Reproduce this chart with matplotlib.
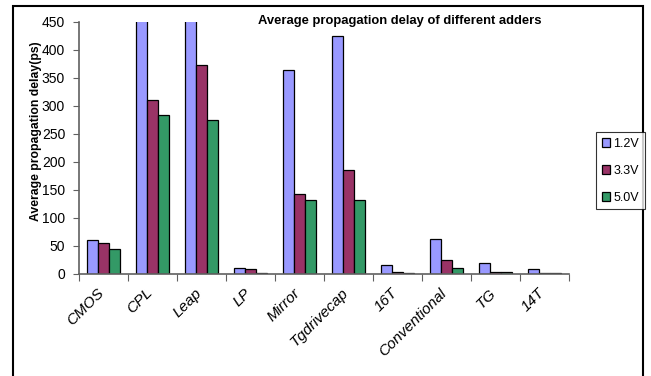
import matplotlib
matplotlib.use("Agg")
import matplotlib.pyplot as plt
import numpy as np
from matplotlib.patches import Rectangle

plt.rcParams['font.family'] = ['Liberation Sans', 'DejaVu Sans']

adders = ["CMOS", "CPL", "Leap", "LP", "Mirror", "Tgdrivecap",
          "16T", "Conventional", "TG", "14T"]
voltages = ["1.2V", "3.3V", "5.0V"]
delay_1v2 = [60, 620, 640, 11, 365, 425, 16, 62, 20, 9]
delay_3v3 = [55, 311, 374, 9, 143, 185, 4, 25, 4, 2]
delay_5v0 = [44, 284, 275, 2, 132, 132, 2, 11, 4, 2]
colors = ["#9999FF", "#993366", "#339966"]

fig = plt.figure(figsize=(6.51, 3.76), dpi=100)
ax = fig.add_axes([0.1214, 0.2713, 0.7526, 0.6702])

x = np.arange(len(adders))
w = 0.222
for i, (vals, lab, c) in enumerate(zip([delay_1v2, delay_3v3, delay_5v0], voltages, colors)):
    ax.bar(x + (i - 1) * w, vals, w, color=c, edgecolor="black", linewidth=0.9, label=lab)

ax.set_xlim(-0.5, len(adders) - 0.5)
ax.set_ylim(0, 450)
ax.set_yticks(range(0, 451, 50))
ax.tick_params(axis="y", labelsize=10, length=4, color="#606060", pad=6)

# ticks on category boundaries, labels at centres
ax.set_xticks(np.arange(len(adders) + 1) - 0.5)
ax.set_xticklabels([])
ax.tick_params(axis="x", length=5, color="#606060")
for xi, name in zip(x, adders):
    ax.text(xi + 0.06, -21, name, rotation=45, ha="right", va="top",
            fontsize=11, style="italic", transform=ax.transData)

for s in ["top", "right"]:
    ax.spines[s].set_visible(False)
for s in ["left", "bottom"]:
    ax.spines[s].set_color("#606060")
    ax.spines[s].set_linewidth(1.2)

ax.set_ylabel("Average propagation delay(ps)", fontsize=8.8, fontweight="bold")
ax.yaxis.set_label_coords(-0.075, 0.567)
fig.text(400 / 651, 1 - 21 / 376, "Average propagation delay of different adders",
         ha="center", va="center", fontsize=9.4, fontweight="bold")

leg = fig.legend(loc="upper left", bbox_to_anchor=(596 / 651, 1 - 132 / 376),
                 fontsize=9, frameon=True, fancybox=False, handlelength=0.7,
                 handleheight=0.7, handletextpad=0.25, borderpad=0.45,
                 labelspacing=1.2, borderaxespad=0)
leg.get_frame().set_edgecolor("black")
leg.get_frame().set_linewidth(0.8)

# outer chart frame
fig.patches.append(Rectangle((13 / 651, -0.02), 630 / 651, 1 - 6 / 376 + 0.02,
                             transform=fig.transFigure, fill=False,
                             edgecolor="black", linewidth=1.5))

fig.savefig("out.png", dpi=100)
